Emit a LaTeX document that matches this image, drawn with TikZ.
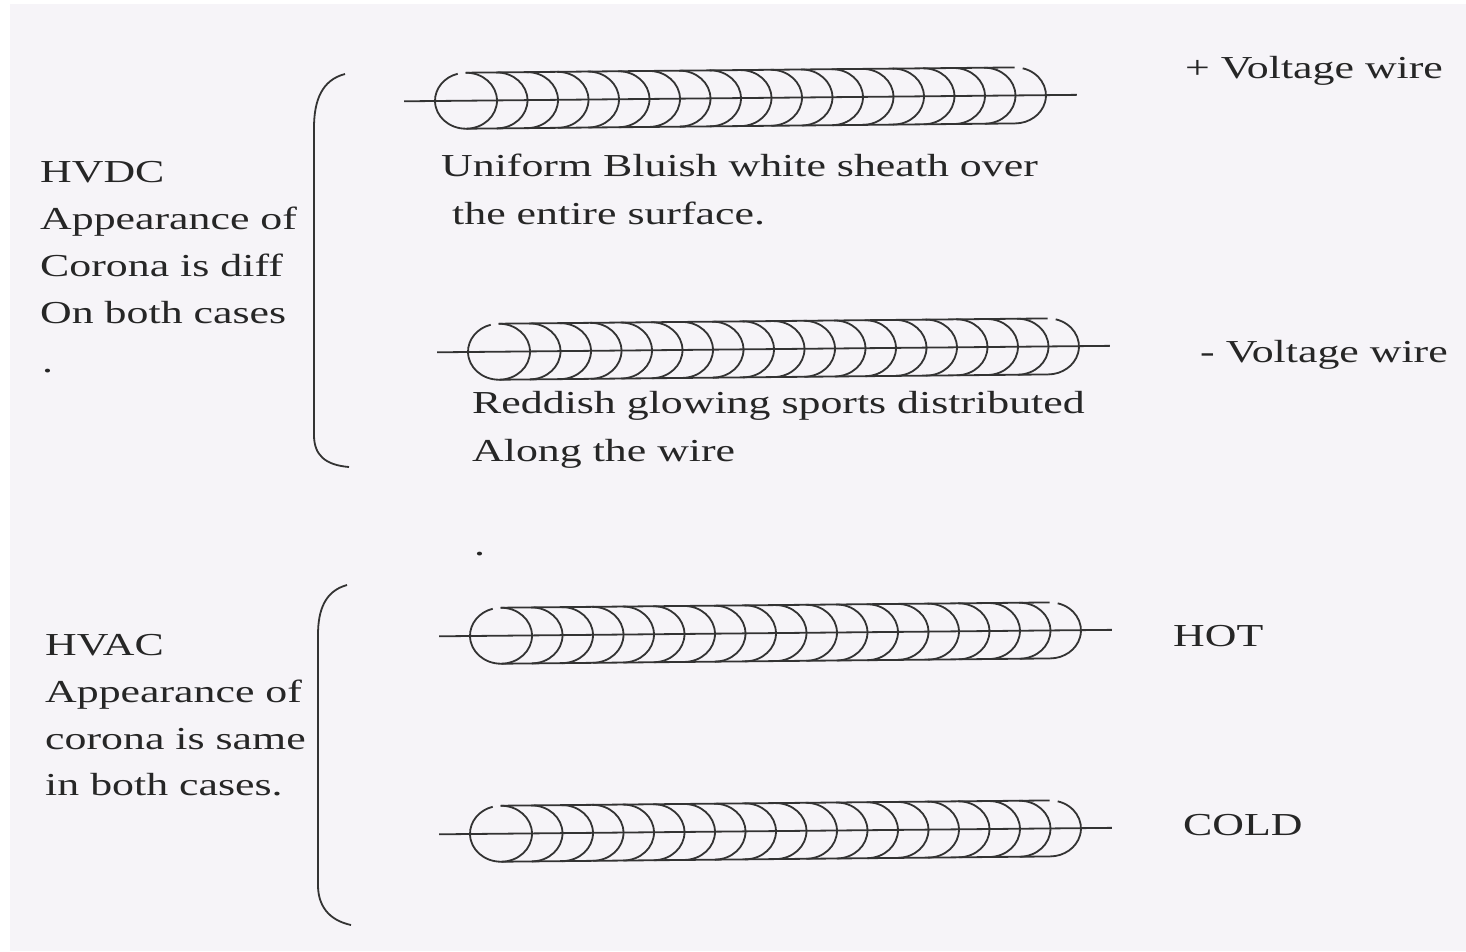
\documentclass[tikz,border=0pt]{standalone}
\usepackage{fontspec}
\setmainfont[FakeStretch=1.37]{Liberation Serif}
\definecolor{paper}{HTML}{F6F4F8}
\definecolor{ink}{HTML}{333333}
\definecolor{txt}{HTML}{262626}
% one corona wire: a central conductor with a row of rings around it
\newcommand\coilwire[2]{%
  \begin{scope}[shift={(#1,#2)}, rotate=0.55]
    \draw[wire] (-31,0) -- (642,0);
    \draw[wire] (31,0) ++(270:31 and 28) arc[start angle=270, end angle=615, x radius=31, y radius=28];
    \foreach \i in {1,...,17}
      \draw[wire] ({31+30.5*\i},-28) arc[start angle=-90, end angle=90, x radius=31, y radius=28];
    \draw[wire] ({31+30.5*18},0) ++(-75:31 and 28) arc[start angle=-75, end angle=90, x radius=31, y radius=28];
    \draw[wire] (31,-28) -- ({31+30.5*18},-28);
    \draw[wire] (31,28) -- ({31+30.5*18},28);
  \end{scope}}
\begin{document}
\begin{tikzpicture}[x=1pt, y=-1pt,
  wire/.style={draw=ink, line width=1.8pt},
  brace/.style={draw=ink, line width=1.8pt},
  lbl/.style={anchor=base west, inner sep=0pt, text=txt, font=\fontsize{32}{36}\selectfont}]
  \useasboundingbox (0,0) rectangle (1466,951);
  \fill[white] (0,0) rectangle (1466,951);
  \fill[paper] (10,4) rectangle (1466,951);

  % wires
  \coilwire{435}{101}
  \coilwire{468}{352}
  \coilwire{470}{636}
  \coilwire{470}{834}

  % group brackets
  \draw[brace] (345,74) .. controls (322,80) and (314,100) .. (314,128) -- (314,435) .. controls (314,455) and (325,465) .. (349,467);
  \draw[brace] (347,585) .. controls (325,591) and (318,610) .. (318,635) -- (318,885) .. controls (318,905) and (328,920) .. (351,925);

  % left captions
  \node[lbl] (dc1) at (40,182) {HVDC};
  \node[lbl] (dc2) at (40,229) {Appearance of};
  \node[lbl] (dc3) at (40,276) {Corona is diff};
  \node[lbl] (dc4) at (40,323) {On both cases};
  \node[lbl] (dc5) at (42,372) {.};
  \node[lbl] (ac1) at (45,655) {HVAC};
  \node[lbl] (ac2) at (45,702) {Appearance of};
  \node[lbl] (ac3) at (45,749) {corona is same};
  \node[lbl] (ac4) at (45,795) {in both cases.};

  % descriptions under the wires
  \node[lbl] (p1) at (441,176) {Uniform Bluish white sheath over};
  \node[lbl] (p2) at (452,224) {the entire surface.};
  \node[lbl] (n1) at (472,413) {Reddish glowing sports distributed};
  \node[lbl] (n2) at (472,461) {Along the wire};
  \node[lbl] (dot) at (474,555) {.};

  % wire names
  \node[lbl] (pos) at (1185,78) {+ Voltage wire};
  \node[lbl] (neg) at (1200,362) {- Voltage wire};
  \node[lbl] (hot) at (1173,646) {HOT};
  \node[lbl] (cold) at (1183,835) {COLD};
\end{tikzpicture}
\end{document}
